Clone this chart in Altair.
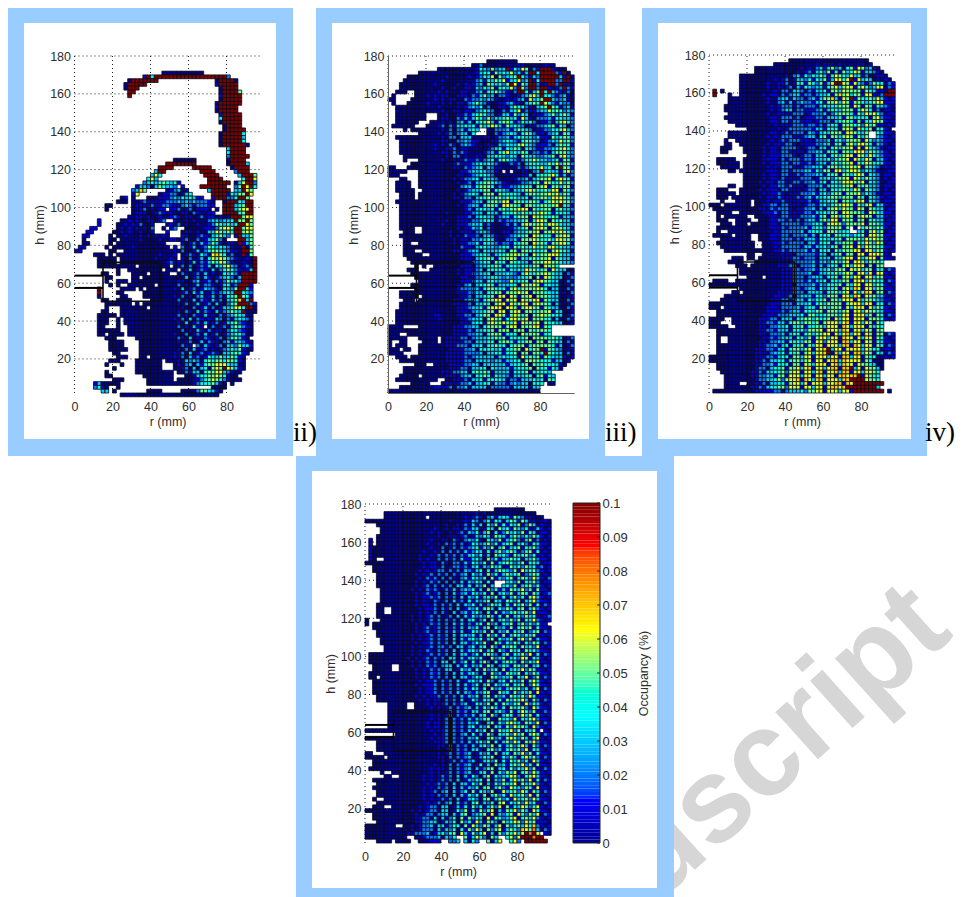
import altair as alt
import pandas as pd

alt.data_transformers.disable_max_rows()

# Occupancy per cell, 2 mm grid. One string per row, from h=178 down to h=4.
# '.' = no data, digit = hundredths, X = 0.1; spaces only group the columns.
PANEL_I = [
"","","",
".......... .......... ...0000000 0000",
".......... ........1X 4XXXXXXXXX XXXXXXXXXX 2",
".......... ....0XXXXX XX........ .......0XX XX0",
".......... ...0XXXXX. .......... .......1XX XXX",
".......... ...0XXX... .......... ........0X XXX",
".......... ....XX.... .......... ........0X XXX5",
".......... ....X..... .......... ........1X XXXX",
".......... .......... .......... ........0X XXXX",
".......... .......... .......... .......0XX XXXX",
".......... .......... .......... .......1XX XXX",
".......... .......... .......... .......0XX XXX",
".......... .......... .......... ........1X XXXX",
".......... .......... .......... ........4X XXXX",
".......... .......... .......... ........0X XXXX",
".......... .......... .......... .........0 XXXX",
".......... .......... .......... .........0 XXXXX",
".......... .......... .......... ........0X XXXX4",
".......... .......... .......... ........0X XXXX3",
".......... .......... .......... ........0X XXXX4",
".......... .......... .......... ........0X XXXXX0",
".......... .......... .......... .......... 3XXXX",
".......... .......... .......... .......... 4XXXX",
".......... .......... .......... .......... 2XXXXX",
".......... .......... ......0000 00........ 0XXXX",
".......... .......... ....XXXXXX XX........ 0XXXX3",
".......... .......... ..XXXX.... .XXXXX.... .0XXXX",
".......... .......... .3XX...... ...XXXX... ..2XXX",
".......... .......... 364....... ....XXXX.. ...3XXX5",
".......... .........4 63........ .....XXXX. ....4XX6",
".......... ........23 43454341.. .....XXXXX X.036XX2",
".......... ......1332 0354332.1. ...XXXXXXX ..25X6X4",
".......... .....2375. ....012301 .....3XXXX X.33X65",
".......... .....16... ..01122013 4.....XXXX 14355X6",
".......... ..01.0...0 0011123243 4311..1XXX 224XX5",
".......... .000.00121 1111222323 2322210..0 XXX43XX",
"........00 .....01111 2112211123 2122211..X XX345XX",
"........0. .....00120 1011.11201 201110.0.X XX3566X",
".......... .....01110 0121010011 0210011..X XXX45XX",
".......... ....001101 0010012101 1002011010 1XXX566",
"......1... ..00101001 1012..1001 0100023323 34X55X5",
"......1... .001010200 1...010201 0010012543 434XX65",
"....11.... .010101010 2..0.12..0 0000111256 65XX566",
"...11..... 0010100100 1...1...01 1010033654 54XX565",
"..11.....0 .001000101 01010...11 0012103453 2.0X335",
"..0......0 0.00000100 0010011012 0020134520 ...XX35",
"..00.....0 .000000000 0000....10 1203125310 110X135",
".11.....0. 0000010000 00000.1.20 1301254343 2100X05",
"11.......0 0..0000000 0000001020 0130245543 2110XX5",
".....000.0 .000000000 0010001.01 2104206754 1200X05",
"......0000 0.00000000 0100010.10 2013046565 3210010X",
"......0000 0.00000000 0000120110 1302135465 2100100X",
"......0000 000000.000 00000.0120 2012130435 6320120X",
".......... .0..000000 000.000.01 3012103024 5421013X",
".......00. .0...0000. 00000..021 0120301014 3420XXXX",
"........00 .....00.00 0000000003 0120310123 4203XXXX",
"........0. .000.00000 00000001100 230120212 5342XXXX",
".........0 .0..000000 0.00000201 0130221013 412XXX1",
"......X... ..0000.0.0 0000001030 1201322104 325XX31",
"......X... .00.....00 0000000012 0313002123 43XX432",
"......0... ..00....00 00000010201 023013021 445X541",
".......00. .0000..... 0000000201 0302103120 3457X3X",
"........00 00000.0.00 0000000102 0130120310 245XXX21",
"........0. ..0000000. 0000000010 0201302013 34664XX0",
".......00. ..00000000 0000000102 1030210312 3543X000",
"......0000 0.00000000 0000000201 0210301021 2354300",
"......000. .0.0000000 0000001020 3021010320 2134320",
"......000. .0.0000000 0000000103 0120301201 3452100",
"......00.. .0..000000 0000000201 0310.02012 1354210",
"......0000 00..000000 0000000020 1031020110 2442100",
"......00.0 000.000000 0000001002 0120301201 2344200",
"........00 0.....0000 0000000210 3010210120 245310.",
".........0 000....000 0000000101 2003021102 3133210",
".........0 000....000 0000000021 1.20310120 3325331",
".........0 0000...000 0000000102 0301201012 3435100",
"..........0 0.....0000 0000010203 012012103 345410",
"...........0 00...00.0 000001020 312014335 345410",
".........0 00....0000 000.00010 323204545 5455410",
"........0. ..0...0000 000...0102 303145566 643300",
".......... 0.....0000 000...0012 030340565 X65310",
"........0. ......0000 000000.002 133045566 32100",
"........00 ........00 000000...0 013445565 4100",
".......... 000......0 000000.000 01124565 421000",
".....13000 00.......0 0000000000 0124445 310.0",
".....2410. .0........ .......... ......00 00",
".......33. 0........0 000.....00 0025543 10",
".......... ..00000000 0000000000 00000000",
]

PANEL_II = [
".......... .......... ......0000 0000",
".......... .......... ..00200000 0000110000 0100",
".......... ...0000000 0001432523 3X14265021 XXX1000",
"........00 0000000000 0001344153 4362313XX4 XXXX21X0",
".....00000 0000010000 0101243605 2345X42132 XXXXX31X0",
"....000000 0000100000 0002314354 6134623X14 XXXX22XX1",
"...0000000 0010000010 1012305434 25X6153XX2 01XX2X110",
"...0000000 0000100100 1103243514 4362X52XX2 XX1012X21",
"..000..000 0001010001 1002314453 2102XX4135 X4X321120",
".0.....000 1010110011 1021352302 2100123563 X44212310",
"00....0000 0010101100 2122323210 0101231634 5XX322310",
".0...00000 1000101011 0235321001 1231103454 X64213220",
"..00000000 0001000010 1232402001 1035442103 45X541231",
"..00000000 0000100110 1102343200 2034612112 336454232",
"..00000000 ...0010011 2134542201 3315243011 123524531",
"..00000000 ...0110021 3135425233 4534163102 223144332",
"..000000.. .000101023 1304456314 5541243420 112035642",
".000000.. .0001202133 4341534653 1534320112 234514302",
"....0.0000 0000102023 1343..1022 2313543201 122445632",
"........00 0001012023 304...0021 2343145421 102341541",
"..00000000 0000102203 3300011012 2313443323 110534542",
"...0000000 0000110022 3211000112 3432145432 012336452",
"...0000000 0010102102 3210001103 2433564321 112035441",
"...0000000 0010011201 1000001234 1435404321 122345642",
"...0000000 0000110212 1000012314 5634354122 120355532",
"....000000 0000010220 1001103344 3243054332 233515632",
"....0...00 0000100101 2112123414 5432124464 332341541",
"......0000 0000000121 1123434321 0021203444 335463552",
"00...00000 0000000110 2123403211 0000212344 63405X541",
"00000...00 0000000001 1233432210 .0.0011023 X34331562",
"000.....00 0000000011 0123443200 0000011304 445641312",
"...00...00 0000000101 2234143320 0001223134 556156541",
"..0000..00 0000000010 1203455432 1000122345 165446352",
"..0000..00 0000000002 3314555412 1122344405 561553551",
"..00000..0 0000000010 1233455144 3203345654 453661542",
"...0000.00 0000000101 2343055515 4444314554 556563541",
"...0000.00 0000000110 2203445355 3544334144 553666542",
"..00000000 0000000001 1123304553 6615544554 145656552",
"...0000000 0000000010 1233145541 6655405544 55456X431",
"...0000000 0000000000 1203443414 5355666154 455045332",
"...0000000 0000010000 1123304331 4445354455 654144431",
"...0000000 0000000011 1203443312 3314555065 544541332",
"...0000000 0000010011 1022344302 1223345146 650545331",
"...0000000 0000100011 1233412100 1203156555 636654332",
"...0000..0 0000000010 1132402100 0012345156 650565431",
"....000..0 0000001001 1102332100 1102334556 155656542",
"...0000000 0000001010 2112033210 0123445065 544155651",
"....000000 0000000101 1022334310 0223155565 445366552",
"....00..00 0000000101 1224144321 2214455065 541556641",
"....000000 0000000002 1103443323 4415454464 536644332",
"....000..0 0000000110 1233043334 3055155444 451565431",
"....00000. .000000001 1123443134 4556554064 556664332",
".....00000 0000000001 1103445414 5565143454 556154331",
"......0000 0000000010 1122344154 4054433155 566554332",
".......0.0 ..00000001 1102334454 1444344355 06554....",
".....000.. .000000010 1112304444 4143436554 451643300",
"......0000 0000000010 1122334033 3432146445 565433021",
".......000 0000000001 1012233443 2322344505 165433012",
"........00 0000000001 1123314433 2263445156 654330021",
"......0000 0000000010 2303445413 3344065565 144330012",
".......000 0000000012 2233145544 4156455556 540330021",
"...0000000 0000000011 1223304455 1555656155 544330102",
"...00000.0 0000000001 1203344516 6065155605 554330011",
"....000.00 0000000111 2333145566 1656065566 154330021",
"...0000000 0000000111 1203344056 6165566156 554030012",
"...0000000 0000000011 1233415666 0665156655 154330021",
"..00000000 0000000011 1023345516 6056615545 556143001",
"..00000000 0011000011 2203455166 5156545055 655443012",
"..00000000 0001000001 1233405655 1466556155 544030021",
"..00000000 0000000001 1034415655 6546165556 054433001",
"0000....00 0000000111 2233045555 1566055566 154......",
"0000000000 0000000111 1203344515 5505551545 554......",
"000..00000 0000000111 1223304555 1444064555 144......",
"00000...00 000.011112 2023334454 5144445055 554543012",
"0..00....0 000.011111 2203334404 5541445515 505443021",
"0.000...00 0000011122 2033414454 4045551455 555413012",
"000.00..00 0000001111 2230444434 1445506455 X15432011",
"0000....00 0000011111 2222303344 1445055155 4X5433021",
"..000.0000 0000011111 2023333313 4344064545 154333101",
"...0000000 0000011111 2203333233 1334405555 44413301.",
".......000 ..00001111 2233033333 3134445054 5444310..",
"....000000 0000001112 2033440433 3313444505 441430...",
"....000000 0000111223 3045454133 3304445144 443......",
"...00000.0 0000011112 3304454143 3203334404 5143.....",
"..00000000 000..00111 2033414444 3022133343 4054.....",
"......0000 0...011112 2303344132 2023233044 4.00.....",
"...0000000 0011112022 3033330222 2203333133 .........",
"0000000000 0000000000 0000000000 0000000000",
]

PANEL_III = [
".......... .......... .000000000 0000000000 00",
".......... .......000 0000000010 1110100001 101",
".......... ..00000000 0000101023 1352304516 52310",
".......... ..00000000 0001012034 2514153465 133210",
"........00 0000000000 1023142435 3146543634 1200110",
"........00 0000000101 2013324143 5136646X16 34301010",
"........00 0000010011 2014415425 136XX65163 212544021",
"........00 0000010010 1203143233 1456356615 642366021",
".X.0....00 0000000102 2133202133 4155365555 1543110XX",
".X...0..00 0000101102 1233122023 3415756355 166112XXX",
".....00000 0000010023 3132202313 5573165X15 445363101",
".....00000 0000010023 1312322134 1556365155 434566111",
"....000000 0000001012 2212122213 4344555165 154143210",
"....000000 0000001012 3312211123 1344355514 654120110",
".....00000 0000010011 1122201222 3124555415 365642011",
"....000000 0000001102 2212011122 1333415534 441562110",
".....00000 0000001102 2122111012 2213455415 144655101",
".......000 0000000101 1122212212 1344155545 264511010",
"..........0 00000001 0122222213 3144405651 644504410",
".....00000 0000001101 2122203213 4355516654 35..43110",
".....00000 0000010102 2211123304 5155356515 35..32101",
"....0..000 0000001012 1222111022 2314425555 164232110",
"....00..00 0000010111 2210111122 3314515636 654132101",
"...000...0 0000101102 2221012203 3145355616 164321011",
"...00....0 0000101102 2111102233 1444155366 635432101",
".......... 0000101112 2210122033 4145356616 536432110",
"..00000..0 0000111102 1222122133 3424556165 365133101",
"..000000.0 0000101112 2122112023 3145355615 465443110",
"...00000.0 0000010102 2211122334 1455355656 154320101",
".....00.00 0000011102 2122233142 5516635665 243210011",
".........0 0000101102 2112122233 1445155356 514320110",
".........0 0000101102 1111222013 3424556165 354320101",
".........0 0001011022 1122122313 4144366655 614320011",
".....00..0 0000101122 1211102223 1344355615 453320110",
"..000...00 0001011102 2111012203 3144455365 154320101",
"..00000.00 0000101121 0111222313 4245515556 243210110",
"..000.0000 0001011021 1112123133 4455355515 404321011",
"...0...000 0.00010112 1111112013 3445155356 614320110",
"000.000000 0.00112202 2111012213 4245566515 356143101",
".000000000 0001102122 2101122303 1456365516 505433011",
"..0000..00 0000111202 2111122133 4355166555 316543110",
"..0.000000 ..00001102 2111222314 5156356505 655133101",
"..000..000 0..0001122 1212023314 5366155515 504433011",
"...000.000 .000001102 2222122344 1566525555 615543110",
"..00000000 0000001112 1222231344 2555515.0. 455354101",
"..0..00000 0000000102 2222303444 1555344..3 415635011",
".00000.000 0..0001112 2122231304 4415444244 516655110",
"...0000000 0..0001102 2212133314 4344515555 365655101",
"..00000000 00..000112 1222203314 4414355515 465365011",
"...0000000 00..000102 2222133133 4245155616 365554110",
"....000000 0000000112 1222231304 4415355566 166355101",
"..........0 0..00000 1110222221 3303451550 661666510",
"......000. 00.0000001 1122122203 3314356616 356615110",
".....0000. ..00000011 1122222313 3245356166 535554...",
".......000 .000000011 1220222303 1344156366 615155...",
"........00 0000000001 1122122313 3425551656 355144021",
"........00 0000000001 1122223013 3445356516 636166101",
"..........0 000.00001 1122202333 1445156366 166355110",
".0000..000 0000000001 1122213133 4144355166 635544021",
"0000000000 0000000001 1102222313 2444515366 166354101",
"........00 0000000001 1122123314 2445156376 166355110",
"......00.0 0000000011 1122203333 1445356163 576155021",
"....000000 0000000111 1202333144 2555166376 165533101",
"...0000000 0000001112 2123314244 5155366616 355432110",
"0000000000 0000001112 2213334145 3555515666 366144021",
"000.000000 0000011102 2223134415 5355516366 616354101",
"..00000000 0000011112 1233144355 1555356166 365543110",
"..00000000 0000111022 2333415534 4555366166 635154021",
"0000..0000 0001112203 3314455354 4516366166 615554101",
"000...0000 0001122133 1455355451 5666367166 365154...",
"00000..000 0001102233 4144514455 3666176366 615354...",
"..00000000 0001122133 3144425556 1666376166 365155...",
"..00000000 0001102223 1344145355 6616367366 165155021",
"..0..00000 0000112123 3314425156 6366176616 366154101",
"..0..00000 0001102233 1444355166 2666177366 165143110",
"..00000000 0001122313 4144515366 1666377176 366154021",
"..00000000 0011122134 1455356166 7X36616666 365440110",
"..00000000 0011102334 1445156366 7X17366177 365143021",
"0000000000 0011122134 4155366166 6366177366 154400101",
"0000000000 0011203344 1455356166 1677376666 154000...",
"..00000000 0011223144 4155165366 6167376616 554300...",
"..00000000 0012203445 1556367166 3677177X36 165530...",
"...0000000 0112133445 2566166367 1667377166 36654....",
"....000000 0112233155 1666366166 366177677X 16544....",
"....000000 0012233452 5667176377 1666377XXX X6554....",
"....0000.. 0011203344 1566361666 36677176XX XXXXXX...",
"....000000 0112134455 2666166366 167767XXXX XXXX3....",
".000000000 0011111220 2333425566 16663661XX XXXXXX.0.",
]

PANEL_IV = [
".......... .......... .......... ....000000 00",
".....00000 0000000000 0000000001 0100000000 00000",
".....00000 000000.000 0000001012 1023134315 3211000",
"0000000000 0000000000 0010001032 0241430354 153110010",
"...0000000 0000000000 0100102031 3042514143 512530100",
"....000000 0000000010 0101102133 0143053415 324113101",
"....000000 0000000101 0010120324 1350412534 251430110",
"...0000000 0000000001 0011012013 2431543135 324253101",
".1.0000000 0000000100 1102102324 1043251345 213512010",
".1.0000000 0000001001 0212020143 2352413451 342143110",
".100000000 0000000100 2012021234 1325035134 514352101",
".100000000 0000010010 2021203124 3141352453 124514010",
".100000000 0000100102 0212021342 4130534215 345241101",
".10..00000 0000101002 0212031134 2052413354 413352110",
"0000000000 0000010110 2102203143 2415134542 351443011",
"..00000000 0000010110 2012212034 1325340153 425341201",
"..00000000 0000101012 2021203213 4041354325 163452101",
"...0000000 0001010202 1202123042 3152413534 512354010",
"...0000000 0000102120 2021023143 2405132451 354263102",
"...0000000 0001010212 0202130324 3141...342 514352011",
"...0000000 0001012020 2120331403 2513..3425 134524101",
"....000000 0010102121 0213023241 3052413154 362415110",
"....000000 0001012012 0203123143 2415034251 354153012",
"....000000 0001011212 0212030324 1342514035 241563101",
"....000000 0001010021 0203120413 2350431542 513462110",
"...0000000 0001011020 2120303241 3125340415 352514021",
"...00..000 0000101120 2120301324 1453042531 451352101",
"...00..000 0000101020 2103023134 2041513245 345261110",
"...0000000 0010101202 0120303142 3253140513 425341012",
"0...000000 0010101202 0212030341 2405134252 514362101",
"0.00000000 0001010212 0203130213 4152304351 35242411.",
"..00000000 0001012012 0212030324 1350423151 453514110",
"...0000000 0001012012 0213130143 2415032514 351245021",
"...0000000 0010101202 1203033241 3052415135 424351101",
"....000000 0010101202 1203031342 4135042351 462513110",
"....000000 0001011202 1203033124 2510531425 314254021",
".....00000 0010101202 2120330241 3405215354 153426101",
".....00000 0010102102 1203031342 5135042153 415342110",
".000000000 0010101202 1203033124 1453203514 352614021",
".000000000 0101012021 2033031342 4105235134 265143101",
".000000000 0010102120 3303124041 3520413543 152436110",
"..00000..0 0010102120 2330314132 4153024315 425134021",
"..00000..0 0001010212 0330142304 1523405134 362541101",
".000000000 0001010212 0203031342 0415231543 514253110",
".00.000000 0001010212 0203033124 3105423351 436125021",
"..00000000 0000101120 2120301342 4152034153 251463101",
"..00000000 0001011120 2120303124 0351423514 351264110",
"..00000000 0000101120 2120203143 1405231354 524136021",
"..00000000 0000101120 2120303213 2451053415 243516101",
"...0000000 0001010112 0212031324 0351423154 352641110",
"...0000000 0000101011 0212030142 1435041535 463152021",
"......0000 0..0001010 1202123014 3250415324 516243101",
"......0000 0..0000101 0120212303 1425314053 452163110",
"......0000 0000000101 0120212033 1450342151 364251021",
"......0000 0000000101 0120212130 3415203541 263514101",
"......0000 0000000101 0202120313 2451053426 143562110",
"......0000 0000001011 0202120324 1035142564 315426021",
"......0000 0000001011 0202120341 3250431526 453162101",
"0000000000 0000000101 1202120314 2405153462 514351.10",
"........00 0000000010 1202023041 3152043526 351464021",
"0000000000 0000000101 1202120324 1045231564 253146101",
"...0000000 0000000011 1202120313 4250413526 415362110",
"...0000000 0000000001 1020212031 3425041352 463152021",
"...0000000 0000000001 0120212033 1045231453 526143101",
"00...00000 0000000001 0120212301 3241503415 362514110",
"00000.0000 0000000001 1020212301 2435014253 146352021",
"..00000000 0000000000 1012021230 1342504153 524163101",
"..00000000 0000000010 1020212301 4130523145 362415110",
".000000000 0000000101 1020212303 1245034152 436251021",
"....0..000 0000000101 0120212301 3415042536 145263101",
".....00..0 0000010101 2120303142 0351423465 214563110",
"..00000000 0000010101 2120301324 4150325146 352614021",
"...0000000 0000001012 1203033142 5031425346 153462101",
"..00000000 0000010102 1203031324 0451352164 325416110",
"...0000000 0000010120 2303124051 4325016345 264153021",
"...0000000 0000010102 1203031424 1503524163 452615101",
"..0..00000 0000010101 2120301342 0451352416 345263110",
"...0000000 0000001012 0230312045 1324056143 526341021",
"..000..000 0000101220 3301314052 4135260514 365246101",
"0000000000 0010101220 3301425031 5246031546 253164110",
"..00000000 0001012202 3303145023 4516032451 642536021",
"..00000000 0001122030 3124051524 3061542356 145362101",
"...0000000 0001122330 1324052416 3154205346 526451110",
"00000000.. 0010122303 3124405163 2541360524 536472101",
"0000000000 0010122203 1324041526 3052461354 276583021",
"0000000000 0112223013 4245063152 4613052546 36X8X6.10",
"0000000000 0..0012223 0324..5136 42053..462 6XXX8XX..",
"...0000.00 00..000111 ..223.3042 ..5136..46 2.XXXXXX.",
]

H_TICKS = [20, 40, 60, 80, 100, 120, 140, 160, 180]
R_TICKS = [0, 20, 40, 60, 80]
CBAR_TICKS = [0, 0.01, 0.02, 0.03, 0.04, 0.05, 0.06, 0.07, 0.08, 0.09, 0.1]
JET_STOPS = [0, 0.0125, 0.0375, 0.0625, 0.0875, 0.1]
JET_COLORS = ["#000090", "#0000ff", "#00ffff", "#ffff00", "#ff0000", "#7f0000"]
TARGET_R = [15, 45]
TARGET_H = [50.5, 71]
PIPE_R = [0, 15]
PIPE_H = [64, 57.5]

FRAMES = [
    [0, 285, -1, 448, "#99ccff"], [16, 268, 15, 431, "#ffffff"],
    [308, 597, -1, 448, "#99ccff"], [324, 581, 15, 431, "#ffffff"],
    [634, 919, -1, 448, "#99ccff"], [650, 903, 15, 431, "#ffffff"],
    [288, 666, 448, 889, "#99ccff"], [304, 649, 463, 880, "#ffffff"],
]
LABELS = [["ii)", 285, 433], ["iii)", 597, 433], ["iv)", 917, 433]]
W, H = 947, 889
FONT = "Liberation Sans"
TXT = "#2e2e2e"

color_scale = alt.Scale(domain=JET_STOPS, range=JET_COLORS)


def cells(rows):
    out = []
    for k, row in enumerate(rows):
        for j, c in enumerate(row.replace(" ", "")[:49]):
            if c == ".":
                continue
            v = 0.1 if c == "X" else int(c) / 100
            out.append({"r0": 2 * j, "r1": 2 * j + 2, "h0": 176 - 2 * k, "h1": 178 - 2 * k, "v": v})
    return pd.DataFrame(out)


def panel(rows, x0, top, bottom, solid):
    xs = alt.Scale(domain=[0, 98], range=[x0 - 8, x0 - 8 + 186.2], nice=False, zero=False)
    ys = alt.Scale(domain=[2, 180], range=[bottom - 8, top - 8], nice=False, zero=False)
    xa = alt.Axis(title="r (mm)", orient="bottom", values=R_TICKS, offset=-(H - (bottom - 8)), grid=False,
                  ticks=False, domain=solid, domainColor="#666666", labelFont=FONT, labelFontSize=12.5,
                  labelColor=TXT, labelPadding=7, titleFont=FONT, titleFontSize=12.5, titleColor=TXT,
                  titleFontWeight="normal", titlePadding=3, labelOverlap=False, labelFlush=False, zindex=1)
    ya = alt.Axis(title="h (mm)", orient="left", values=H_TICKS, offset=-(x0 - 8), grid=False, ticks=False,
                  domain=solid, domainColor="#666666", labelFont=FONT, labelFontSize=12.5, labelColor=TXT,
                  labelPadding=4, titleFont=FONT, titleFontSize=12.5, titleColor=TXT,
                  titleFontWeight="normal", titlePadding=3, labelOverlap=False, labelFlush=False, zindex=1)
    grid_h = pd.DataFrame({"h": H_TICKS, "a": 0, "b": 98})
    grid_v = pd.DataFrame({"r": R_TICKS, "a": 2, "b": 180})
    dash = dict(stroke="#222222", strokeWidth=1, strokeDash=[1, 3])
    g1 = alt.Chart(grid_h).mark_rule(**dash).encode(
        x=alt.X("a:Q", scale=xs, axis=None), x2="b:Q", y=alt.Y("h:Q", scale=ys, axis=None))
    g2 = alt.Chart(grid_v).mark_rule(**dash).encode(
        x=alt.X("r:Q", scale=xs, axis=None), y=alt.Y("a:Q", scale=ys, axis=None), y2="b:Q")
    heat = alt.Chart(cells(rows)).mark_rect(stroke="#0a0a14", strokeWidth=0.8).encode(
        x=alt.X("r0:Q", scale=xs, axis=xa), x2="r1:Q",
        y=alt.Y("h0:Q", scale=ys, axis=ya), y2="h1:Q",
        color=alt.Color("v:Q", scale=color_scale, legend=None))
    target = alt.Chart(pd.DataFrame([{"a": TARGET_R[0], "b": TARGET_R[1], "c": TARGET_H[0], "d": TARGET_H[1]}])).mark_rect(
        filled=False, stroke="#0a0a18", strokeWidth=1.6).encode(
        x=alt.X("a:Q", scale=xs, axis=None), x2="b:Q", y=alt.Y("c:Q", scale=ys, axis=None), y2="d:Q")
    pipes = alt.Chart(pd.DataFrame({"h": PIPE_H, "a": PIPE_R[0], "b": PIPE_R[1]})).mark_rule(
        stroke="#000000", strokeWidth=2).encode(
        x=alt.X("a:Q", scale=xs, axis=None), x2="b:Q", y=alt.Y("h:Q", scale=ys, axis=None))
    return [g1, g2, heat, target, pipes]


wm = alt.Chart(pd.DataFrame([{"t": "uscript", "x": 650, "y": 895}])).mark_text(
    angle=318, fontSize=120, fontWeight="bold", font=FONT, align="left", baseline="alphabetic", color="#d6d6d6"
).encode(x=alt.X("x:Q", scale=None, axis=None), y=alt.Y("y:Q", scale=None, axis=None), text="t:N")

frames_df = pd.DataFrame(FRAMES, columns=["a", "b", "c", "d", "col"])
frame_layers = [
    alt.Chart(frames_df[frames_df.col == c]).mark_rect().encode(
        x=alt.X("a:Q", scale=None, axis=None), x2="b:Q",
        y=alt.Y("c:Q", scale=None, axis=None), y2="d:Q",
        fill=alt.value(c))
    for c in ["#99ccff", "#ffffff"]
]
labels = alt.Chart(pd.DataFrame(LABELS, columns=["t", "x", "y"])).mark_text(
    font="Liberation Serif", fontSize=27, align="left", baseline="alphabetic", color="#000000"
).encode(x=alt.X("x:Q", scale=None, axis=None), y=alt.Y("y:Q", scale=None, axis=None), text="t:N")

cb_y = alt.Scale(domain=[0, 0.1], range=[835, 495], nice=False, zero=False)
levels = pd.DataFrame({"a": [i / 1000 for i in range(100)]})
levels["b"] = levels["a"] + 0.001
levels["c"] = levels["a"] + 0.0005
cb_axis = alt.Axis(title="Occupancy (%)", orient="right", values=CBAR_TICKS, offset=-(W - 592), grid=False,
                   ticks=False, domain=False, labelFont=FONT, labelFontSize=13, labelColor=TXT, labelPadding=2,
                   titleFont=FONT, titleFontSize=12.5, titleColor=TXT, titleFontWeight="normal", titleAngle=270,
                   titleX=50, format=".2~f", labelOverlap=False, labelFlush=False, zindex=1)
cb = alt.Chart(levels).mark_rect().encode(
    x=alt.value(565), x2=alt.value(592),
    y=alt.Y("a:Q", scale=cb_y, axis=cb_axis), y2="b:Q",
    color=alt.Color("c:Q", scale=color_scale, legend=None))
cb_box = alt.Chart(pd.DataFrame([{"a": 0, "b": 0.1}])).mark_rect(filled=False, stroke="#222222", strokeWidth=1).encode(
    x=alt.value(565), x2=alt.value(592), y=alt.Y("a:Q", scale=cb_y, axis=None), y2="b:Q")
cb_ticks = alt.Chart(pd.DataFrame({"a": CBAR_TICKS})).mark_rule(stroke="#222222").encode(
    x=alt.value(589), x2=alt.value(592), y=alt.Y("a:Q", scale=cb_y, axis=None))

chart = alt.layer(
    wm, frame_layers[0], frame_layers[1], labels,
    *panel(PANEL_I, 74.5, 56, 393, False),
    *panel(PANEL_II, 388, 56, 393, True),
    *panel(PANEL_III, 709, 55, 393, False),
    *panel(PANEL_IV, 365, 504, 843, False),
    cb, cb_box, cb_ticks,
).resolve_scale(x="independent", y="independent").resolve_axis(x="independent", y="independent").properties(
    width=W, height=H, padding=0, autosize=alt.AutoSizeParams(type="none"), background="#ffffff"
).configure_view(stroke=None)

chart.save("out.html", embed_options={"renderer": "svg", "actions": False})
